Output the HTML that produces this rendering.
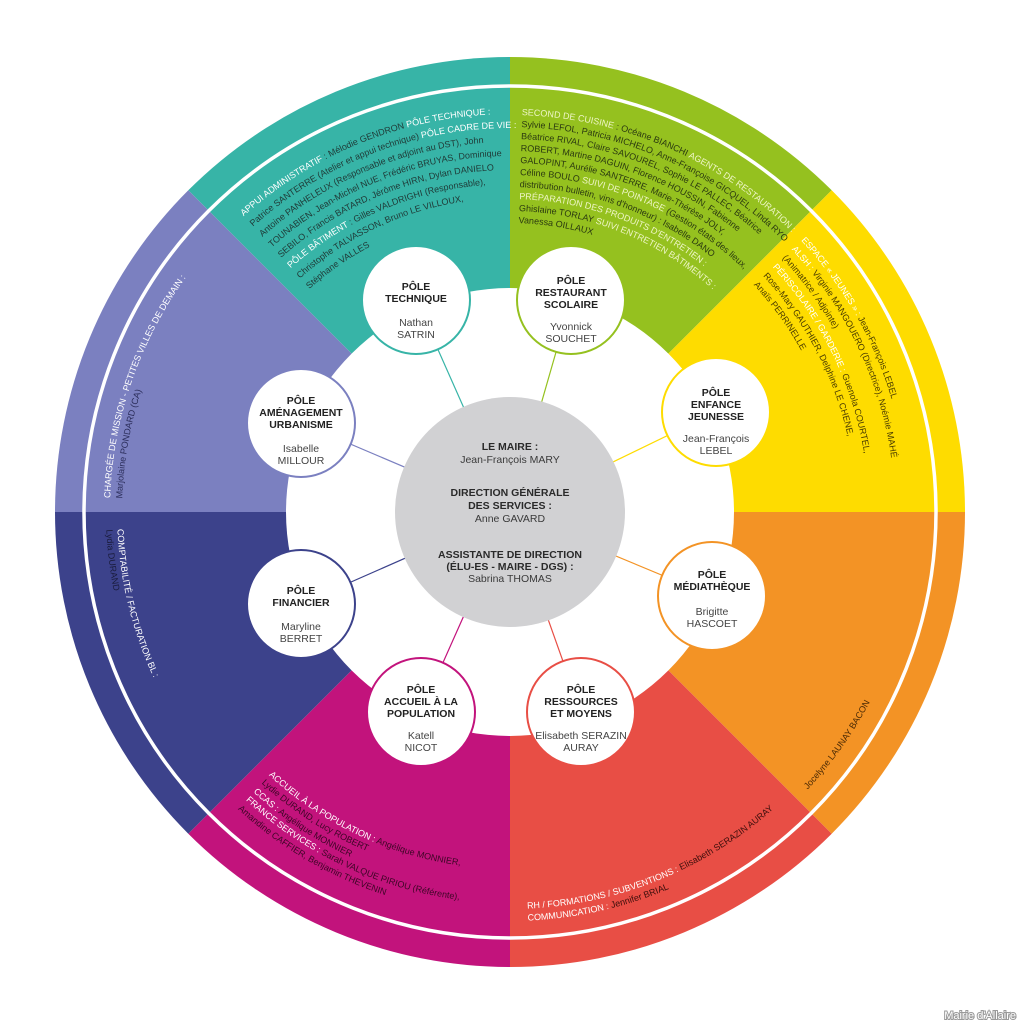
<!DOCTYPE html>
<html><head><meta charset="utf-8"><style>
html,body{margin:0;padding:0;background:#fff;}
svg{display:block;font-family:"Liberation Sans",sans-serif;}
.st{font-size:9px;}
.nt{font-size:10.5px;font-weight:bold;fill:#222;text-anchor:middle;}
.nn{font-size:10.5px;fill:#444;text-anchor:middle;}
.ct{font-size:10.5px;font-weight:bold;fill:#2a2a2a;text-anchor:middle;}
.cn{font-size:10.5px;fill:#3a3a3a;text-anchor:middle;}
</style></head><body>
<svg width="1020" height="1024" viewBox="0 0 1020 1024" xmlns="http://www.w3.org/2000/svg">
<defs>
<path id="c398" d="M908 512 A398 398 0 1 1 112 512 A398 398 0 1 1 908 512"/>
<path id="c384" d="M894 512 A384 384 0 1 1 126 512 A384 384 0 1 1 894 512"/>
<path id="c370" d="M880 512 A370 370 0 1 1 140 512 A370 370 0 1 1 880 512"/>
<path id="c356" d="M866 512 A356 356 0 1 1 154 512 A356 356 0 1 1 866 512"/>
<path id="c342" d="M852 512 A342 342 0 1 1 168 512 A342 342 0 1 1 852 512"/>
<path id="c328" d="M838 512 A328 328 0 1 1 182 512 A328 328 0 1 1 838 512"/>
<path id="c314" d="M824 512 A314 314 0 1 1 196 512 A314 314 0 1 1 824 512"/>
<path id="c300" d="M810 512 A300 300 0 1 1 210 512 A300 300 0 1 1 810 512"/>
<path id="c397" d="M907 512 A397 397 0 1 1 113 512 A397 397 0 1 1 907 512"/>
<path id="c385" d="M895 512 A385 385 0 1 1 125 512 A385 385 0 1 1 895 512"/>
<path id="c373" d="M883 512 A373 373 0 1 1 137 512 A373 373 0 1 1 883 512"/>
<path id="c361" d="M871 512 A361 361 0 1 1 149 512 A361 361 0 1 1 871 512"/>
<path id="c349" d="M859 512 A349 349 0 1 1 161 512 A349 349 0 1 1 859 512"/>
<path id="c337" d="M847 512 A337 337 0 1 1 173 512 A337 337 0 1 1 847 512"/>
<path id="c325" d="M835 512 A325 325 0 1 1 185 512 A325 325 0 1 1 835 512"/>
<path id="c313" d="M823 512 A313 313 0 1 1 197 512 A313 313 0 1 1 823 512"/>
<path id="c301" d="M811 512 A301 301 0 1 1 209 512 A301 301 0 1 1 811 512"/>
<path id="c289" d="M799 512 A289 289 0 1 1 221 512 A289 289 0 1 1 799 512"/>
<path id="c372" d="M882 512 A372 372 0 1 1 138 512 A372 372 0 1 1 882 512"/>
<path id="c359" d="M869 512 A359 359 0 1 1 151 512 A359 359 0 1 1 869 512"/>
<path id="c346" d="M856 512 A346 346 0 1 1 164 512 A346 346 0 1 1 856 512"/>
<path id="c333" d="M843 512 A333 333 0 1 1 177 512 A333 333 0 1 1 843 512"/>
<path id="c400" d="M910 512 A400 400 0 1 1 110 512 A400 400 0 1 1 910 512"/>
<path id="c388" d="M898 512 A388 388 0 1 1 122 512 A388 388 0 1 1 898 512"/>
<path id="a393" d="M903 512 A393 393 0 1 0 117 512 A393 393 0 1 0 903 512"/>
<path id="a404" d="M914 512 A404 404 0 1 0 106 512 A404 404 0 1 0 914 512"/>
<path id="a357" d="M867 512 A357 357 0 1 0 153 512 A357 357 0 1 0 867 512"/>
<path id="a368" d="M878 512 A368 368 0 1 0 142 512 A368 368 0 1 0 878 512"/>
<path id="a380" d="M890 512 A380 380 0 1 0 130 512 A380 380 0 1 0 890 512"/>
<path id="a391" d="M901 512 A391 391 0 1 0 119 512 A391 391 0 1 0 901 512"/>
<path id="a403" d="M913 512 A403 403 0 1 0 107 512 A403 403 0 1 0 913 512"/>
<path id="a397" d="M907 512 A397 397 0 1 0 113 512 A397 397 0 1 0 907 512"/>
<path id="a409" d="M919 512 A409 409 0 1 0 101 512 A409 409 0 1 0 919 512"/>
<path id="a407" d="M917 512 A407 407 0 1 0 103 512 A407 407 0 1 0 917 512"/>
</defs>

<path d="M510 512 L188.3 190.3 A455 455 0 0 1 510 57 Z" fill="#37b4a7"/>
<path d="M510 512 L510 57 A455 455 0 0 1 831.7 190.3 Z" fill="#95c11f"/>
<path d="M510 512 L831.7 190.3 A455 455 0 0 1 965 512 Z" fill="#fedc00"/>
<path d="M510 512 L965 512 A455 455 0 0 1 831.7 833.7 Z" fill="#f39325"/>
<path d="M510 512 L831.7 833.7 A455 455 0 0 1 510 967 Z" fill="#e84e45"/>
<path d="M510 512 L510 967 A455 455 0 0 1 188.3 833.7 Z" fill="#c2137c"/>
<path d="M510 512 L188.3 833.7 A455 455 0 0 1 55 512 Z" fill="#3c428b"/>
<path d="M510 512 L55 512 A455 455 0 0 1 188.3 190.3 Z" fill="#7b80c0"/>
<circle cx="510" cy="512" r="426" fill="none" stroke="#fff" stroke-width="3.5"/>
<circle cx="510" cy="512" r="224" fill="#fff"/>

<g stroke-width="1.2">
<line x1="510" y1="512" x2="416" y2="300" stroke="#37b4a7"/>
<line x1="510" y1="512" x2="571" y2="300" stroke="#95c11f"/>
<line x1="510" y1="512" x2="716" y2="412" stroke="#fedc00"/>
<line x1="510" y1="512" x2="712" y2="596" stroke="#f39325"/>
<line x1="510" y1="512" x2="581" y2="712" stroke="#e84e45"/>
<line x1="510" y1="512" x2="421" y2="712" stroke="#c2137c"/>
<line x1="510" y1="512" x2="301" y2="604" stroke="#3c428b"/>
<line x1="510" y1="512" x2="301" y2="423" stroke="#7b80c0"/>
</g>
<circle cx="510" cy="512" r="115" fill="#d1d1d3"/>

<text class="ct" x="510" y="450">LE MAIRE :</text>
<text class="cn" x="510" y="463">Jean-François MARY</text>
<text class="ct" x="510" y="496">DIRECTION GÉNÉRALE</text>
<text class="ct" x="510" y="509">DES SERVICES :</text>
<text class="cn" x="510" y="522">Anne GAVARD</text>
<text class="ct" x="510" y="558">ASSISTANTE DE DIRECTION</text>
<text class="ct" x="510" y="570">(ÉLU-ES - MAIRE - DGS) :</text>
<text class="cn" x="510" y="582">Sabrina THOMAS</text>

<g fill="#fff" stroke-width="2">
<circle cx="416" cy="300" r="54" stroke="#37b4a7"/>
<circle cx="571" cy="300" r="54" stroke="#95c11f"/>
<circle cx="716" cy="412" r="54" stroke="#fedc00"/>
<circle cx="712" cy="596" r="54" stroke="#f39325"/>
<circle cx="581" cy="712" r="54" stroke="#e84e45"/>
<circle cx="421" cy="712" r="54" stroke="#c2137c"/>
<circle cx="301" cy="604" r="54" stroke="#3c428b"/>
<circle cx="301" cy="423" r="54" stroke="#7b80c0"/>
</g>
<text class="nt" x="416" y="290">PÔLE</text><text class="nt" x="416" y="302">TECHNIQUE</text>
<text class="nn" x="416" y="326">Nathan</text><text class="nn" x="416" y="338">SATRIN</text>

<text class="nt" x="571" y="284">PÔLE</text><text class="nt" x="571" y="296">RESTAURANT</text><text class="nt" x="571" y="308">SCOLAIRE</text>
<text class="nn" x="571" y="330">Yvonnick</text><text class="nn" x="571" y="342">SOUCHET</text>

<text class="nt" x="716" y="396">PÔLE</text><text class="nt" x="716" y="408">ENFANCE</text><text class="nt" x="716" y="420">JEUNESSE</text>
<text class="nn" x="716" y="442">Jean-François</text><text class="nn" x="716" y="454">LEBEL</text>

<text class="nt" x="712" y="578">PÔLE</text><text class="nt" x="712" y="590">MÉDIATHÈQUE</text>
<text class="nn" x="712" y="615">Brigitte</text><text class="nn" x="712" y="627">HASCOET</text>

<text class="nt" x="581" y="693">PÔLE</text><text class="nt" x="581" y="705">RESSOURCES</text><text class="nt" x="581" y="717">ET MOYENS</text>
<text class="nn" x="581" y="739">Elisabeth SERAZIN</text><text class="nn" x="581" y="751">AURAY</text>

<text class="nt" x="421" y="693">PÔLE</text><text class="nt" x="421" y="705">ACCUEIL À LA</text><text class="nt" x="421" y="717">POPULATION</text>
<text class="nn" x="421" y="739">Katell</text><text class="nn" x="421" y="751">NICOT</text>

<text class="nt" x="301" y="594">PÔLE</text><text class="nt" x="301" y="606">FINANCIER</text>
<text class="nn" x="301" y="630">Maryline</text><text class="nn" x="301" y="642">BERRET</text>

<text class="nt" x="301" y="404">PÔLE</text><text class="nt" x="301" y="416">AMÉNAGEMENT</text><text class="nt" x="301" y="428">URBANISME</text>
<text class="nn" x="301" y="452">Isabelle</text><text class="nn" x="301" y="464">MILLOUR</text>

<g class="st" fill="#1f3a37" font-size="8.6" transform="rotate(-132 510 512)">
<text><textPath href="#c398"><tspan fill="#fff">APPUI ADMINISTRATIF</tspan> : Mélodie GENDRON <tspan fill="#fff">PÔLE TECHNIQUE :</tspan></textPath></text>
<text><textPath href="#c384">Patrice SANTERRE (Atelier et appui technique) <tspan fill="#fff">PÔLE CADRE DE VIE :</tspan></textPath></text>
<text><textPath href="#c370">Antoine PANHELEUX (Responsable et adjoint au DST), John</textPath></text>
<text><textPath href="#c356">TOUNABIEN, Jean-Michel NUE, Frédéric BRUYAS, Dominique</textPath></text>
<text><textPath href="#c342">SEBILO, Francis BATARD, Jérôme HIRN, Dylan DANIELO</textPath></text>
<text><textPath href="#c328"><tspan fill="#fff">PÔLE BÂTIMENT</tspan> : Gilles VALDRIGHI (Responsable),</textPath></text>
<text><textPath href="#c314">Christophe TALVASSON, Bruno LE VILLOUX,</textPath></text>
<text><textPath href="#c300">Stéphane VALLES</textPath></text>
</g>

<g class="st" fill="#2b3a10" transform="rotate(-88.3 510 512)">
<text><textPath href="#c397"><tspan fill="#eef5c6">SECOND DE CUISINE</tspan> : Océane BIANCHI <tspan fill="#eef5c6">AGENTS DE RESTAURATION :</tspan></textPath></text>
<text><textPath href="#c385">Sylvie LEFOL, Patricia MICHELO, Anne-Françoise GICQUEL, Linda RYO</textPath></text>
<text><textPath href="#c373">Béatrice RIVAL, Claire SAVOUREL, Sophie LE PALLEC, Béatrice</textPath></text>
<text><textPath href="#c361">ROBERT, Martine DAGUIN, Florence HOUSSIN, Fabienne</textPath></text>
<text><textPath href="#c349">GALOPINT, Aurélie SANTERRE, Marie-Thérèse JOLY,</textPath></text>
<text><textPath href="#c337">Céline BOULO <tspan fill="#eef5c6">SUIVI DE POINTAGE</tspan> (Gestion états des lieux,</textPath></text>
<text><textPath href="#c325">distribution bulletin, vins d'honneur) : Isabelle DANO</textPath></text>
<text><textPath href="#c313" fill="#eef5c6">PRÉPARATION DES PRODUITS D'ENTRETIEN :</textPath></text>
<text><textPath href="#c301">Ghislaine TORLAY <tspan fill="#eef5c6">SUIVI ENTRETIEN BÂTIMENTS :</tspan></textPath></text>
<text><textPath href="#c289">Vanessa OILLAUX</textPath></text>
</g>

<g class="st" fill="#4a3c00" transform="rotate(-43 510 512)">
<text><textPath href="#c398"><tspan fill="#fff">ESPACE « JEUNES » :</tspan> Jean-François LEBEL</textPath></text>
<text><textPath href="#c385"><tspan fill="#fff">ALSH :</tspan> Virginie MANGOUERO (Directrice), Noémie MAHÉ</textPath></text>
<text><textPath href="#c372">(Animatrice / Adjointe)</textPath></text>
<text><textPath href="#c359"><tspan fill="#fff">PÉRISCOLAIRE / GARDERIE :</tspan> Guenola COURTEL,</textPath></text>
<text><textPath href="#c346">Rose-Mary GAUTHIER, Delphine LE CHENE,</textPath></text>
<text><textPath href="#c333">Anaïs PERRINELLE</textPath></text>
</g>

<g class="st" fill="#2b2d5a" font-size="9.6" transform="rotate(-178 510 512)">
<text><textPath href="#c400" fill="#fff">CHARGÉE DE MISSION - PETITES VILLES DE DEMAIN :</textPath></text>
<text><textPath href="#c388">Marjolaine PONDARD (CA)</textPath></text>
</g>

<g class="st" fill="#1a1c3c" font-size="9.6" transform="rotate(177.5 510 512)">
<text><textPath href="#a393" fill="#fff">COMPTABILITÉ / FACTURATION BL :</textPath></text>
<text><textPath href="#a404">Lydia DURAND</textPath></text>
</g>

<g class="st" fill="#3d0626" transform="rotate(132.5 510 512)">
<text><textPath href="#a357"><tspan fill="#fff">ACCUEIL À LA POPULATION :</tspan> Angélique MONNIER,</textPath></text>
<text><textPath href="#a368">Lydie DURAND, Lucy ROBERT</textPath></text>
<text><textPath href="#a380"><tspan fill="#fff">CCAS :</tspan> Angélique MONNIER</textPath></text>
<text><textPath href="#a391"><tspan fill="#fff">FRANCE SERVICES :</tspan> Sarah VALQUE PIRIOU (Référente),</textPath></text>
<text><textPath href="#a403">Amandine CAFFIER, Benjamin THEVENIN</textPath></text>
</g>

<g class="st" fill="#3d0f0c" transform="rotate(87.5 510 512)">
<text><textPath href="#a397"><tspan fill="#fff">RH / FORMATIONS / SUBVENTIONS :</tspan> Elisabeth SERAZIN AURAY</textPath></text>
<text><textPath href="#a409"><tspan fill="#fff">COMMUNICATION :</tspan> Jennifer BRIAL</textPath></text>
</g>

<g class="st" fill="#4a2a05" transform="rotate(43 510 512)">
<text><textPath href="#a407">Jocelyne LAUNAY BACON</textPath></text>
</g>

<text x="1016" y="1019" text-anchor="end" font-size="11" fill="#fff" stroke="#9a9a9a" stroke-width="2" paint-order="stroke" font-family="Liberation Sans, sans-serif">Mairie d'Allaire</text>
</svg>
</body></html>
